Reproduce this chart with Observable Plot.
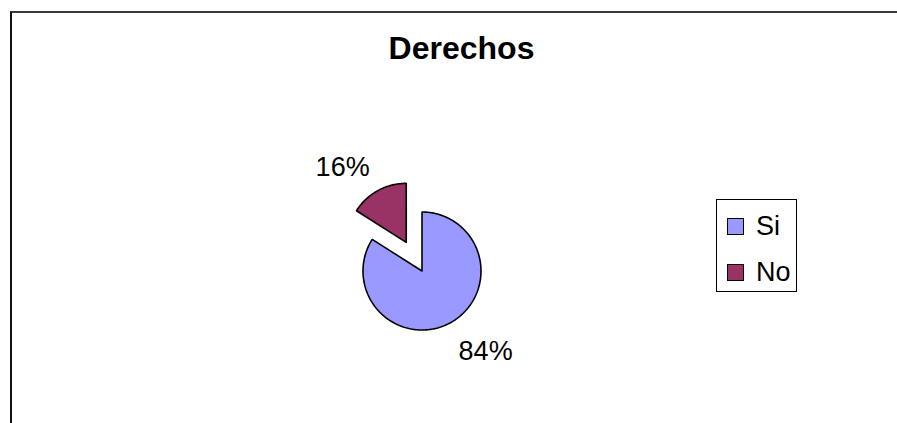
<!DOCTYPE html>
<html>
<head>
<meta charset="utf-8">
<script src="https://cdn.jsdelivr.net/npm/d3@7"></script>
<script src="https://cdn.jsdelivr.net/npm/@observablehq/plot@0.6"></script>
<style>
  html, body { margin: 0; padding: 0; background: #fff; }
  #wrap { position: relative; width: 897px; height: 423px; overflow: hidden; font-family: "Liberation Sans", Arial, sans-serif; }
  #border { position: absolute; left: 10px; top: 11px; width: 1000px; height: 500px;
            border-top: 2px solid #383838; border-left: 2px solid #111; box-sizing: border-box; pointer-events: none; }
  #legend { position: absolute; left: 716px; top: 199px; width: 81px; height: 93px; box-sizing: border-box;
            border: 1px solid #000; background: #fff; }
  .item { position: absolute; left: 10px; display: flex; align-items: center; font-size: 27px; color: #000; line-height: 1; }
  .sw { width: 17px; height: 17px; box-sizing: border-box; border: 1.5px solid #000; margin-right: 12px; }
  svg { position: absolute; left: 0; top: 0; }
</style>
</head>
<body>
<div id="wrap"><div id="border"></div></div>
<script>
// ---- data ----
const title = "Derechos";
const categories = ["Si", "No"];
const values = [84, 16];
const labels = ["84%", "16%"];
const colors = ["#9999FF", "#993366"];
const explode = [0, 0.554]; // fraction of radius

// ---- layout (pixels) ----
const W = 897, H = 423;
const R = 59, cx = 421.5, cy = 270.5;

const pie = d3.pie().sort(null).value(d => d.value).startAngle(0).endAngle(2 * Math.PI);
const arcs = pie(categories.map((c, i) => ({cat: c, value: values[i], label: labels[i], color: colors[i], ex: explode[i]})));

function slicePoints(a) {
  const m = (a.startAngle + a.endAngle) / 2;
  const ox = a.data.ex * Math.sin(m), oy = a.data.ex * Math.cos(m);
  const pts = [{x: ox, y: oy}];
  const n = Math.max(2, Math.ceil((a.endAngle - a.startAngle) / (Math.PI / 180)));
  for (let k = 0; k <= n; k++) {
    const t = a.startAngle + (a.endAngle - a.startAngle) * k / n;
    pts.push({x: ox + Math.sin(t), y: oy + Math.cos(t)});
  }
  pts.push({x: ox, y: oy});
  return pts;
}

const labelData = arcs.map(a => {
  const m = (a.startAngle + a.endAngle) / 2;
  const dx = Math.sin(m), dy = Math.cos(m);
  const dist = (1 + a.data.ex) * R + 17;
  const px = dist * dx + Math.sign(dx) * 27;
  const py = dist * dy + Math.sign(dy) * (dy < 0 ? 13.5 : 8.5);
  return {x: px / R, y: py / R, label: a.data.label};
});

const marks = arcs.map(a => Plot.line(slicePoints(a), {
  x: "x", y: "y", fill: a.data.color, stroke: "#000", strokeWidth: 1.6, strokeLinejoin: "miter", curve: "linear"
}));

const chart = Plot.plot({
  width: W, height: H,
  marginTop: 0, marginRight: 0, marginBottom: 0, marginLeft: 0,
  style: {background: "transparent", overflow: "visible"},
  x: {domain: [-cx / R, (W - cx) / R], range: [0, W], axis: null},
  y: {domain: [(cy - H) / R, cy / R], range: [H, 0], axis: null},
  marks: [
    ...marks,
    Plot.text(labelData, {x: "x", y: "y", text: "label", fontSize: 27, fill: "#000",
      fontFamily: "Liberation Sans, Arial, sans-serif", textAnchor: "middle", lineAnchor: "middle"}),
    Plot.text([title], {frameAnchor: "top", dx: 12.5, dy: 58.5, lineAnchor: "bottom", fontSize: 32,
      fontWeight: "bold", fill: "#000", fontFamily: "Liberation Sans, Arial, sans-serif"})
  ]
});

const wrap = document.getElementById("wrap");
wrap.insertBefore(chart, wrap.firstChild);

const legend = document.createElement("div");
legend.id = "legend";
categories.forEach((c, i) => {
  const it = document.createElement("div");
  it.className = "item";
  it.style.top = (i === 0 ? 13 : 59) + "px";
  const sw = document.createElement("div");
  sw.className = "sw";
  sw.style.background = colors[i];
  const tx = document.createElement("span");
  tx.textContent = c;
  it.appendChild(sw); it.appendChild(tx);
  legend.appendChild(it);
});
wrap.appendChild(legend);
</script>
</body>
</html>
